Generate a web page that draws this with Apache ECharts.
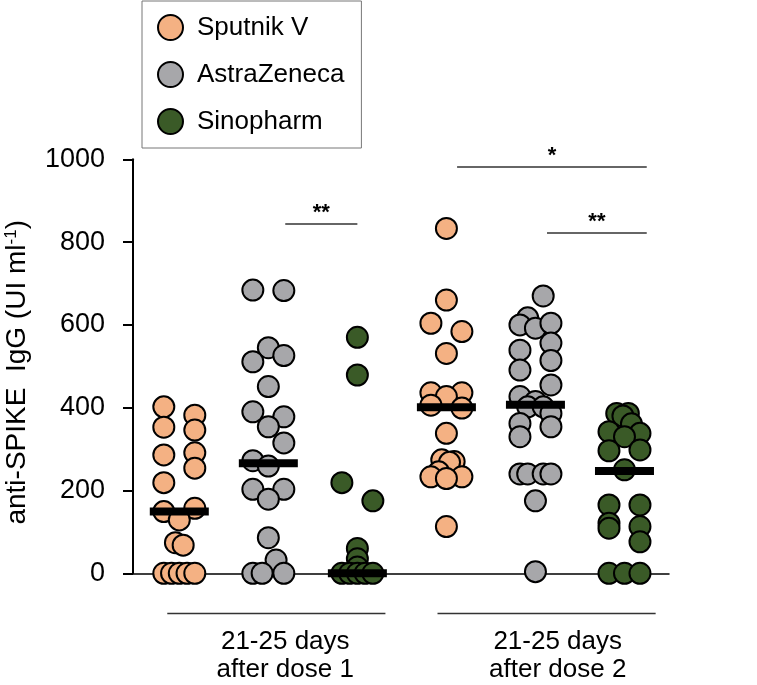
<!DOCTYPE html>
<html><head><meta charset="utf-8">
<script src="https://cdn.jsdelivr.net/npm/echarts@6/dist/echarts.min.js"></script>
<style>html,body{margin:0;padding:0;background:#fff}#c{width:757px;height:685px}</style>
</head><body><div id="c"></div>
<script>
// ---------- data ----------
const vaccines = ['Sputnik V', 'AstraZeneca', 'Sinopharm'];
const doseLabels = ['21-25 days\nafter dose 1', '21-25 days\nafter dose 2'];
const yMin = 0, yMax = 1000, yStep = 200;

const sputnikDose1       = [402, 353, 286, 219, 382, 346, 291, 254, 149, 157, 129, 74, 68, 0, 0, 0, 0, 0];
const sputnikDose1Jitter = [-1, -1, -1, -1, 1, 1, 1, 1, -1, 1, 0, -0.25, 0.25, -1, -0.5, 0, 0.5, 1];
const astraDose1         = [684, 683, 545, 511, 526, 451, 390, 378, 354, 315, 272, 259, 203, 203, 179, 86, 32, 0, 0, 0];
const astraDose1Jitter   = [-1, 1, 0, -1, 1, 0, -1, 1, 0, 1, -1, 0, -1, 1, 0, 0, 0.5, -1, -0.4, 1];
const sinoDose1          = [570, 479, 219, 175, 60, 35, 15, 0, 0, 0, 0, 0];
const sinoDose1Jitter    = [0, 0, -1, 1, 0, 0, 0, -1, -0.5, 0, 0.5, 1];

const sputnikDose2       = [833, 660, 604, 584, 531, 436, 436, 427, 406, 399, 338, 274, 270, 268, 245, 233, 233, 229, 113];
const sputnikDose2Jitter = [0, 0, -1, 1, 0, -1, 1, 0, -1, 1, 0, -0.3, 0.5, 0.2, -0.5, -1, 1, 0, 0];
const astraDose2         = [670, 617, 600, 592, 604, 556, 539, 514, 491, 455, 427, 415, 402, 402, 386, 362, 354, 330, 240, 240, 240, 240, 175, 4];
const astraDose2Jitter   = [0.5, -0.5, -1, 0, 1, 1, -1, 1, -1, 1, -1, 0, -0.5, 0.5, 1, -1, 1, -1, -1, -0.5, 0.5, 1, 0, 0];
const sinoDose2          = [386, 386, 380, 361, 342, 338, 330, 296, 298, 250, 165, 165, 121, 109, 113, 76, 0, 0, 0];
const sinoDose2Jitter    = [-0.5, 0.25, -0.1, 0.45, -1, 1, 0, -1, 1, 0, -1, 1, -1, -1, 1, 1, -1, 0, 1];

const medians = [149, 266, 0, 401, 407, 247];

const sigLabels = ['**', '*', '**'];

// ---------- styling / layout ----------
const colors = ['#f4b183', '#a7a7aa', '#3a5a27'];
const FONT = '"Liberation Sans", Arial, Helvetica, sans-serif';
const JIT = 0.174;
const sigLayout = [ // [fromX, toX, yValue]
  [1.19, 2.0, 845],
  [3.12, 5.25, 982],
  [4.13, 5.25, 823]
];
const bracketLayout = [ // [fromX, toX, labelX]
  [-0.135, 2.315, 1.19],
  [2.9, 5.35, 4.25]
];

const dose1 = [[sputnikDose1, sputnikDose1Jitter], [astraDose1, astraDose1Jitter], [sinoDose1, sinoDose1Jitter]];
const dose2 = [[sputnikDose2, sputnikDose2Jitter], [astraDose2, astraDose2Jitter], [sinoDose2, sinoDose2Jitter]];

function pts(doseIdx, vIdx, vals, jit) {
  return vals.map((v, i) => [doseIdx * 3 + vIdx + jit[i] * JIT, v]);
}

const chart = echarts.init(document.getElementById('c'), null, { renderer: 'canvas' });

const series = vaccines.map((name, v) => ({
  type: 'scatter',
  name: name,
  data: pts(0, v, dose1[v][0], dose1[v][1]).concat(pts(1, v, dose2[v][0], dose2[v][1])),
  symbol: 'circle',
  symbolSize: 21,
  itemStyle: { color: colors[v], borderColor: '#000', borderWidth: 2, opacity: 1 },
  emphasis: { disabled: true },
  z: 2
}));

series.push({
  type: 'scatter',
  name: 'median',
  data: medians.map((m, i) => [i, m]),
  symbol: 'rect',
  symbolSize: [59, 8],
  itemStyle: { color: '#000', opacity: 1 },
  emphasis: { disabled: true },
  silent: true,
  z: 3
});

series.push({
  type: 'line',
  name: 'sig',
  data: [],
  markLine: {
    silent: true,
    symbol: ['none', 'none'],
    animation: false,
    lineStyle: { color: '#333', width: 1.5, type: 'solid' },
    label: {
      show: true, position: 'middle', formatter: '{b}',
      fontSize: 22, fontWeight: 'bold', color: '#000', fontFamily: FONT, distance: 0
    },
    emphasis: { disabled: true },
    data: sigLabels.map((s, i) => [
      { name: s, coord: [sigLayout[i][0], sigLayout[i][2]] },
      { coord: [sigLayout[i][1], sigLayout[i][2]] }
    ])
  }
});

chart.setOption({
  animation: false,
  backgroundColor: '#fff',
  textStyle: { fontFamily: FONT },
  grid: { left: 133, right: 88, top: 159.3, bottom: 111.7, containLabel: false, outerBoundsMode: 'none' },
  legend: {
    data: vaccines,
    orient: 'vertical',
    left: 142, top: 1,
    padding: [13, 17, 13, 15],
    itemGap: 20,
    itemWidth: 25, itemHeight: 25,
    icon: 'circle',
    borderColor: '#777', borderWidth: 1,
    itemStyle: { borderColor: '#000', borderWidth: 2 },
    textStyle: { fontSize: 26, color: '#000', fontFamily: FONT, padding: [0, 0, 0, 9] },
    selectedMode: false
  },
  xAxis: {
    type: 'value', min: -0.52, max: 5.5,
    axisLine: { show: true, onZero: false, lineStyle: { color: '#000', width: 1.5 } },
    axisTick: { show: false }, axisLabel: { show: false }, splitLine: { show: false }
  },
  yAxis: {
    type: 'value', min: yMin, max: yMax, interval: yStep,
    axisLine: { show: true, onZero: false, lineStyle: { color: '#000', width: 2 } },
    axisTick: { show: true, length: 10, lineStyle: { color: '#000', width: 2 } },
    axisLabel: { fontSize: 27, color: '#000', margin: 28, fontFamily: FONT, formatter: v => String(v) },
    splitLine: { show: false },
    name: '{a|anti-SPIKE  IgG (UI ml}{s|-1}{a|)}',
    nameLocation: 'middle',
    nameGap: 102,
    nameMoveOverlap: false,
    nameTextStyle: {
      padding: [0, 12, 0, 0],
      rich: {
        a: { fontSize: 28, color: '#000', fontFamily: FONT },
        s: { fontSize: 17, color: '#000', fontFamily: FONT, verticalAlign: 'top' }
      }
    }
  },
  series: series
});

// bottom group brackets + labels
const yBracket = chart.convertToPixel({ yAxisIndex: 0 }, -97);
const graphics = [];
bracketLayout.forEach((b, i) => {
  const x1 = chart.convertToPixel({ xAxisIndex: 0 }, b[0]);
  const x2 = chart.convertToPixel({ xAxisIndex: 0 }, b[1]);
  const xl = chart.convertToPixel({ xAxisIndex: 0 }, b[2]);
  graphics.push({
    type: 'line', shape: { x1: x1, y1: yBracket, x2: x2, y2: yBracket },
    style: { stroke: '#333', lineWidth: 1.5 }, silent: true
  });
  graphics.push({
    type: 'text', x: xl, y: yBracket + 14, silent: true,
    style: {
      text: doseLabels[i], fill: '#000', font: '26px ' + FONT,
      align: 'center', verticalAlign: 'top', lineHeight: 28.5
    }
  });
});
chart.setOption({ graphic: graphics });
</script></body></html>
